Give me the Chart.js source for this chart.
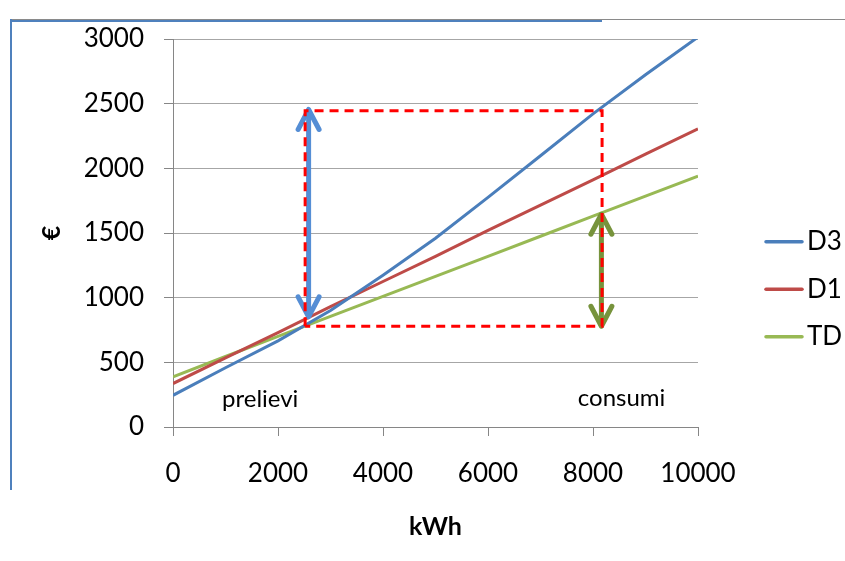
<!DOCTYPE html>
<html><head><meta charset="utf-8">
<script src="https://cdn.jsdelivr.net/npm/chart.js@4/dist/chart.umd.min.js"></script>
<style>
html,body{margin:0;padding:0;background:#fff;}
#wrap{position:relative;width:845px;height:561px;overflow:hidden;background:#fff;}
#c{position:absolute;left:0;top:0;}
.fr{position:absolute;}
</style></head><body>
<div id="wrap">
<div class="fr" style="left:11px;top:19px;width:834px;height:1px;background:#8a8a8a"></div>
<div class="fr" style="left:11px;top:20px;width:591px;height:2px;background:#4f81bd"></div>
<div class="fr" style="left:10px;top:19px;width:2px;height:471px;background:#4f81bd"></div>
<canvas id="c" width="845" height="561" style="width:845px;height:561px"></canvas>
</div>
<script>
// ---- data ----
const kwh = [0, 1000, 2000, 3000, 4000, 5000, 6000, 7000, 8000, 9000, 10000];
const d3  = [245, 458, 666, 900, 1173, 1459, 1775, 2097, 2421, 2723, 3015];
const d1  = [336, 535, 730, 930, 1125, 1320, 1520, 1715, 1910, 2110, 2305];
const td  = [388, 545, 700, 855, 1010, 1165, 1320, 1475, 1630, 1785, 1940];
const seriesNames = ['D3', 'D1', 'TD'];
const xTickValues = [0, 2000, 4000, 6000, 8000, 10000];
const yTickValues = [0, 500, 1000, 1500, 2000, 2500, 3000];
const xTitle = 'kWh';
const yTitle = '€';
// annotations (data units)
const rectX = [2517, 8173];
const rectY = [779, 2446];
const blueArrow = [2583, 852, 2455];   // x, bottom tip, top tip
const greenArrow = [8160, 779, 1645];
const notes = ['prelievi', 'consumi'];
const noteX = [934, 7710];
const noteY = [155, 166];

const colors = ['#4a7ebb', '#be4b48', '#98b954'];
const FONT = 'Lato, "Open Sans", sans-serif';

function mk(vals){ return kwh.map((x,i)=>({x:x, y:vals[i]})); }

function drawArrow(ctx, x, yTop, yBot, color){
  ctx.save();
  ctx.strokeStyle = color; ctx.lineWidth = 5; ctx.lineCap = 'round'; ctx.lineJoin = 'round';
  ctx.beginPath(); ctx.moveTo(x, yTop + 2); ctx.lineTo(x, yBot - 2); ctx.stroke();
  ctx.beginPath(); ctx.moveTo(x - 10.5, yTop + 20); ctx.lineTo(x, yTop); ctx.lineTo(x + 10.5, yTop + 20); ctx.stroke();
  ctx.beginPath(); ctx.moveTo(x - 10.5, yBot - 20); ctx.lineTo(x, yBot); ctx.lineTo(x + 10.5, yBot - 20); ctx.stroke();
  ctx.restore();
}

const annot = {
  id: 'annot',
  afterDatasetsDraw(chart){
    const ctx = chart.ctx, xs = chart.scales.x, ys = chart.scales.y;
    drawArrow(ctx, xs.getPixelForValue(blueArrow[0]), ys.getPixelForValue(blueArrow[2]), ys.getPixelForValue(blueArrow[1]), '#558ed5');
    drawArrow(ctx, xs.getPixelForValue(greenArrow[0]), ys.getPixelForValue(greenArrow[2]), ys.getPixelForValue(greenArrow[1]), '#77933c');
    // dashed rectangle
    const l = xs.getPixelForValue(rectX[0]), r = xs.getPixelForValue(rectX[1]);
    const t = ys.getPixelForValue(rectY[1]), b = ys.getPixelForValue(rectY[0]);
    ctx.save();
    ctx.strokeStyle = '#ff0000'; ctx.lineWidth = 3; ctx.setLineDash([9, 6]);
    ctx.beginPath(); ctx.moveTo(l, b); ctx.lineTo(l, t); ctx.lineTo(r, t); ctx.lineTo(r, b); ctx.lineTo(l, b); ctx.stroke();
    ctx.restore();
    // notes
    ctx.save();
    ctx.fillStyle = '#000'; ctx.font = '24px ' + FONT; ctx.textAlign = 'left'; ctx.textBaseline = 'alphabetic';
    notes.forEach((n, i) => ctx.fillText(n, xs.getPixelForValue(noteX[i]), ys.getPixelForValue(noteY[i])));
    ctx.restore();
  },
  afterDraw(chart){
    // legend
    const ctx = chart.ctx;
    ctx.save();
    chart.data.datasets.forEach((ds, i) => {
      const y = 241.7 + i * 47.5;
      ctx.strokeStyle = ds.borderColor; ctx.lineWidth = 3.5; ctx.lineCap = 'round';
      ctx.beginPath(); ctx.moveTo(766, y); ctx.lineTo(802, y); ctx.stroke();
      ctx.fillStyle = '#000'; ctx.font = '26px ' + FONT; ctx.textAlign = 'left'; ctx.textBaseline = 'middle';
      ctx.fillText(ds.label, 807, y);
    });
    ctx.restore();
  }
};

const plain = v => String(v);

new Chart(document.getElementById('c'), {
  type: 'line',
  data: {
    datasets: [
      { label: seriesNames[0], data: mk(d3), borderColor: colors[0], backgroundColor: colors[0] },
      { label: seriesNames[1], data: mk(d1), borderColor: colors[1], backgroundColor: colors[1] },
      { label: seriesNames[2], data: mk(td), borderColor: colors[2], backgroundColor: colors[2] }
    ]
  },
  options: {
    responsive: false,
    animation: false,
    devicePixelRatio: 1,
    elements: { line: { borderWidth: 3, tension: 0 }, point: { radius: 0, hoverRadius: 0 } },
    layout: { padding: { left: 37, top: 39, right: 147, bottom: 0 } },
    plugins: { legend: { display: false }, tooltip: { enabled: false } },
    scales: {
      x: {
        type: 'linear', min: 0, max: 10000,
        afterBuildTicks: s => { s.ticks = xTickValues.map(v => ({ value: v })); },
        afterFit: s => { s.height = 134; },
        grid: { drawOnChartArea: false, drawTicks: true, tickLength: 9, color: '#868686' },
        border: { color: '#868686', width: 1 },
        ticks: { color: '#000', font: { family: FONT, size: 26 }, padding: 22, maxRotation: 0, callback: plain },
        title: { display: true, text: xTitle, color: '#000', font: { family: FONT, size: 25, weight: 'bold' }, padding: { top: 0, bottom: 19 } }
      },
      y: {
        type: 'linear', min: 0, max: 3000,
        afterBuildTicks: s => { s.ticks = yTickValues.map(v => ({ value: v })); },
        afterFit: s => { s.width = 136; },
        grid: { color: '#a6a6a6', tickColor: '#868686', tickLength: 9 },
        border: { color: '#868686', width: 1 },
        ticks: { color: '#000', font: { family: FONT, size: 26 }, padding: 20, callback: plain },
        title: { display: true, text: yTitle, color: '#000', font: { family: FONT, size: 25, weight: 'bold' }, padding: { top: 0, bottom: 0 } }
      }
    }
  },
  plugins: [annot]
});
</script>
</body></html>
